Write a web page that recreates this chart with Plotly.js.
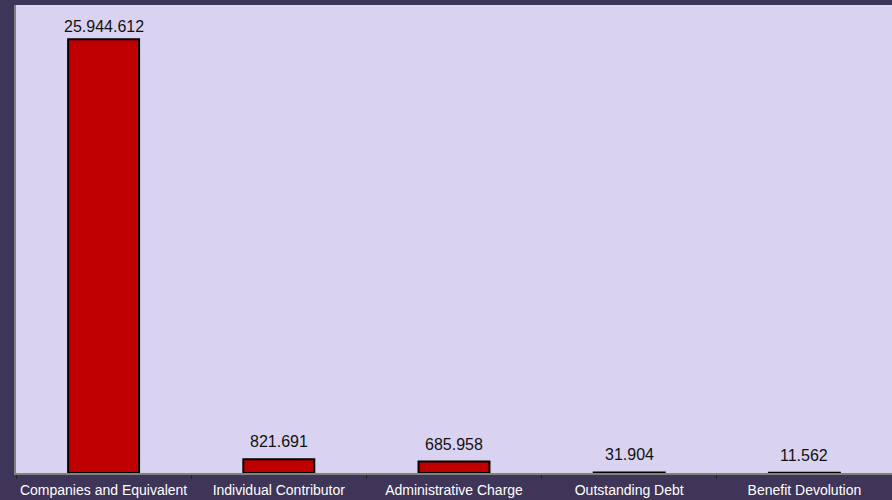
<!DOCTYPE html>
<html><head><meta charset="utf-8">
<script src="https://cdn.plot.ly/plotly-3.0.1.min.js"></script>
<style>html,body{margin:0;padding:0;background:#3f3558;}#chart{width:892px;height:500px;}</style>
</head><body><div id="chart"></div>
<script>
const categories = ["Companies and Equivalent","Individual Contributor","Administrative Charge","Outstanding Debt","Benefit Devolution"];
const values = [25944612, 821691, 685958, 31904, 11562];

const fmt = v => Math.round(v).toString().replace(/\B(?=(\d{3})+(?!\d))/g, '.');

const trace = {
  type: 'bar',
  x: categories,
  y: values,
  width: 0.405,
  marker: {color: '#c00000', line: {color: '#000000', width: 2}},
  hoverinfo: 'none'
};
const annotations = categories.map((c, i) => ({
  x: c, y: values[i], xref: 'x', yref: 'y',
  text: fmt(values[i]),
  showarrow: false,
  yanchor: 'bottom',
  yshift: i === 0 ? 2 : 7,
  font: {family: 'Liberation Sans, Arial, sans-serif', size: 16, color: '#111111'}
}));
const layout = {
  width: 892, height: 500,
  margin: {l: 16, r: 0, t: 5, b: 27},
  paper_bgcolor: '#3f3558',
  plot_bgcolor: '#d9d3f1',
  showlegend: false,
  annotations: annotations,
  xaxis: {
    type: 'category',
    tickson: 'boundaries',
    tickangle: 0,
    automargin: false,
    ticks: 'outside', ticklen: 4, tickcolor: '#222222', tickwidth: 1,
    ticklabelstandoff: 3,
    showline: true, linecolor: '#808080', linewidth: 2,
    showgrid: false,
    tickfont: {family: 'Liberation Sans, Arial, sans-serif', size: 14, color: '#ffffff'}
  },
  yaxis: {
    range: [0, 28000000],
    showticklabels: false, showgrid: false, zeroline: false,
    ticks: '',
    showline: true, linecolor: '#808080', linewidth: 2
  }
};
Plotly.newPlot('chart', [trace], layout, {displayModeBar: false, staticPlot: true});
</script></body></html>
